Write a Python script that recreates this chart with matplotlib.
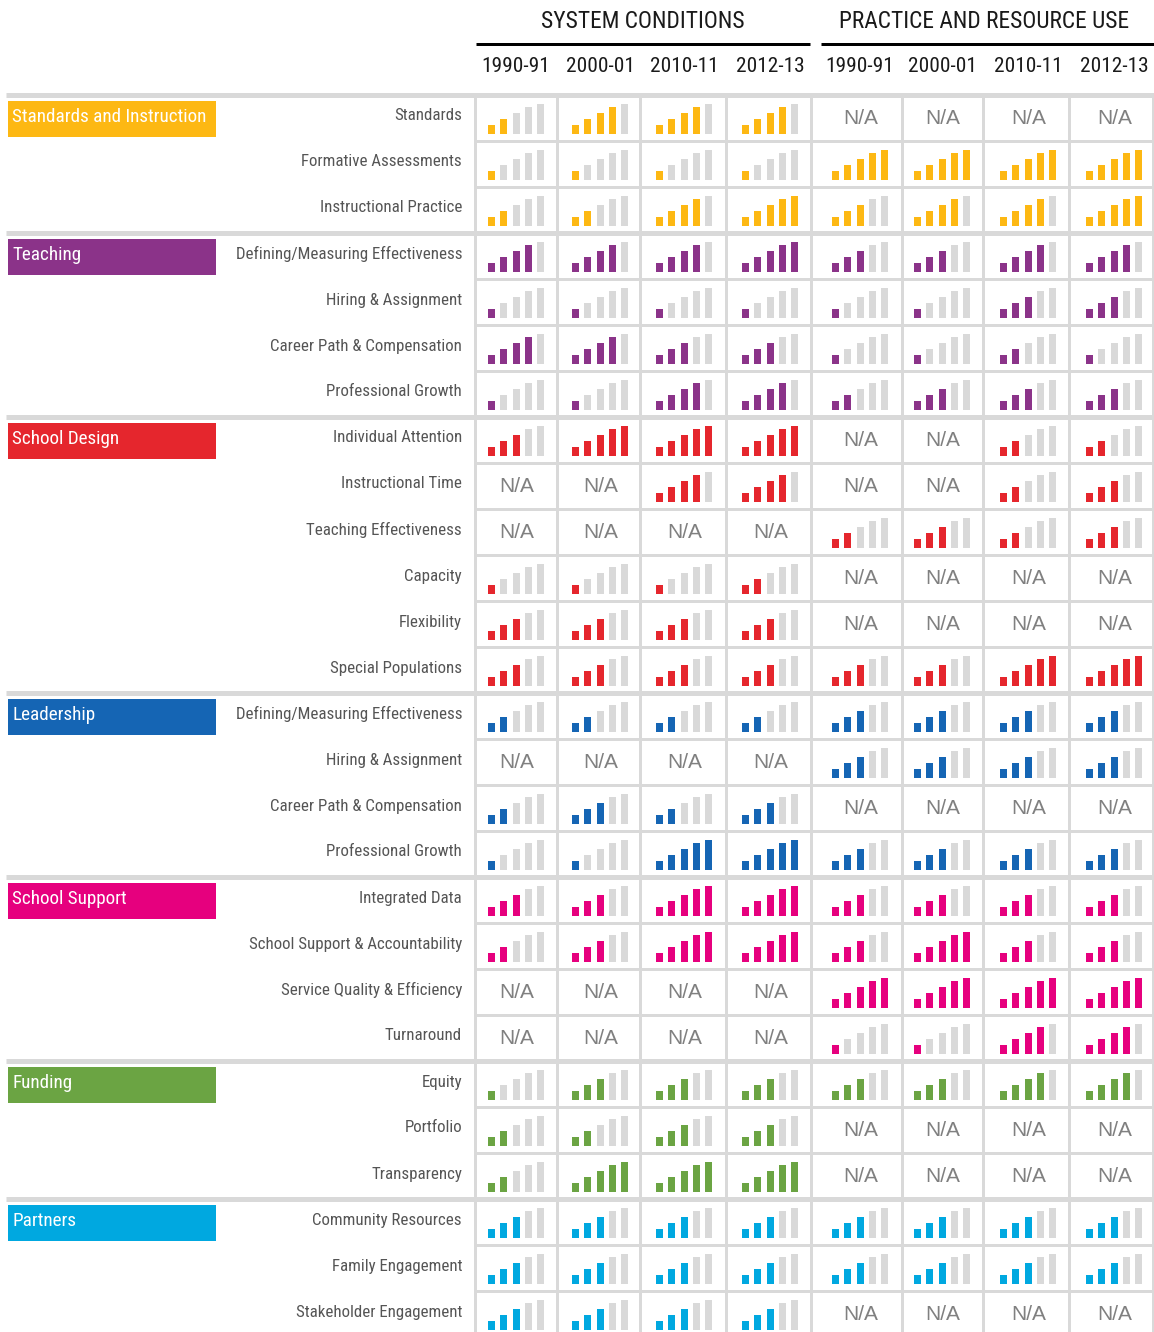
import matplotlib
matplotlib.use('Agg')
import matplotlib.pyplot as plt
from matplotlib import font_manager as fm

# ---------------- data ----------------
sections = ['SYSTEM CONDITIONS', 'PRACTICE AND RESOURCE USE']
years = ['1990-91', '2000-01', '2010-11', '2012-13']

groups = ['Standards and Instruction', 'Teaching', 'School Design', 'Leadership',
          'School Support', 'Funding', 'Partners']
group_colors = ['#FDB813', '#8B3389', '#E5262D', '#1565B4', '#E6007E', '#6BA443', '#00A8E0']

subcats = [
    ['Standards', 'Formative Assessments', 'Instructional Practice'],
    ['Defining/Measuring Effectiveness', 'Hiring & Assignment',
     'Career Path & Compensation', 'Professional Growth'],
    ['Individual Attention', 'Instructional Time', 'Teaching Effectiveness',
     'Capacity', 'Flexibility', 'Special Populations'],
    ['Defining/Measuring Effectiveness', 'Hiring & Assignment',
     'Career Path & Compensation', 'Professional Growth'],
    ['Integrated Data', 'School Support & Accountability',
     'Service Quality & Efficiency', 'Turnaround'],
    ['Equity', 'Portfolio', 'Transparency'],
    ['Community Resources', 'Family Engagement', 'Stakeholder Engagement'],
]

N = None  # N/A
# levels (1-5 filled bars) per row, per year
system_conditions = [
    [2, 4, 4, 4], [1, 1, 1, 1], [2, 2, 4, 5],
    [4, 4, 4, 5], [1, 1, 1, 1], [4, 4, 3, 3], [1, 1, 4, 4],
    [3, 5, 5, 5], [N, N, 4, 4], [N, N, N, N], [1, 1, 1, 2], [3, 3, 3, 3], [3, 3, 3, 3],
    [2, 2, 2, 2], [N, N, N, N], [2, 3, 2, 3], [1, 1, 5, 5],
    [3, 3, 5, 5], [2, 3, 5, 5], [N, N, N, N], [N, N, N, N],
    [1, 3, 3, 3], [2, 2, 3, 3], [2, 5, 5, 5],
    [3, 3, 3, 3], [3, 3, 3, 3], [3, 3, 3, 3],
]
practice_resource = [
    [N, N, N, N], [5, 5, 5, 5], [3, 4, 4, 5],
    [3, 3, 4, 4], [1, 1, 3, 3], [1, 1, 2, 1], [2, 3, 3, 3],
    [N, N, 2, 2], [N, N, 2, 3], [2, 3, 2, 3], [N, N, N, N], [N, N, N, N], [3, 3, 5, 5],
    [3, 3, 3, 3], [3, 3, 3, 3], [N, N, N, N], [3, 3, 3, 3],
    [3, 3, 3, 3], [3, 5, 3, 3], [5, 5, 5, 5], [1, 1, 4, 4],
    [3, 3, 4, 4], [N, N, N, N], [N, N, N, N],
    [3, 3, 3, 3], [3, 3, 3, 3], [N, N, N, N],
]

# ---------------- style / layout ----------------
W, H = 1154, 1332
GRAY = '#D9D9D9'
NA_COLOR = '#808080'
LABEL_COLOR = '#555555'
ROW_TOP = 95
ROW_H = 46
col_centers = [516, 600, 684, 770, 860, 942, 1028, 1114]
col_edges = [475, 557, 640, 726, 811, 902, 983, 1069, 1153]
bar_heights = [9, 15, 21, 27, 30]
bar_pitch = 12.3
bar_w = 7
px = 0.72  # points per pixel at dpi 100

names = {f.name for f in fm.fontManager.ttflist}
narrow = None
for cand in ['Liberation Sans Narrow', 'Arial Narrow', 'Roboto Condensed',
             'Open Sans Condensed', 'Noto Sans Display']:
    if cand in names:
        narrow = cand
        break
if narrow is None:
    narrow_font = dict(family=['Liberation Sans', 'DejaVu Sans'])
    nscale = 0.84
else:
    narrow_font = dict(family=[narrow, 'DejaVu Sans'])
    nscale = 1.0
regular_font = dict(family=['Liberation Sans', 'DejaVu Sans'])

fig = plt.figure(figsize=(W / 100, H / 100), dpi=100)
ax = fig.add_axes([0, 0, 1, 1])
ax.set_xlim(0, W)
ax.set_ylim(H, 0)
ax.axis('off')

# headers
sec_spans = [(476, 810), (821, 1154)]
sec_centers = [643, 984]
for (x0, x1), name, xc in zip(sec_spans, sections, sec_centers):
    ax.text(xc, 21, name, ha='center', va='center',
            fontsize=16.8 * nscale, color='#1a1a1a', **narrow_font)
    ax.plot([x0, x1], [44, 44], color='black', lw=3 * px, solid_capstyle='butt')
for i, c in enumerate(col_centers):
    ax.text(c, 67, years[i % 4], ha='center', va='center',
            fontsize=15.4 * nscale, color='#1a1a1a', **narrow_font)

# rows
row = 0
group_starts = []
for g, (gname, gcol, subs) in enumerate(zip(groups, group_colors, subcats)):
    group_starts.append(row)
    gtop = ROW_TOP + row * ROW_H
    ax.barh(gtop + 23.5, 208, left=8, height=36, color=gcol, zorder=2)
    ax.text(12, gtop + 22, gname, ha='left', va='center', color='white',
            fontsize=13.8 * nscale, zorder=3, **narrow_font)
    for k, sub in enumerate(subs):
        top = ROW_TOP + row * ROW_H
        ax.text(462, top + 21, sub, ha='right', va='center', color=LABEL_COLOR,
                fontsize=12.2 * nscale, **narrow_font)
        levels = system_conditions[row] + practice_resource[row]
        for c, lev in enumerate(levels):
            cx = col_centers[c]
            if lev is None:
                ax.text(cx + 1, top + 24, 'N/A', ha='center', va='center',
                        color=NA_COLOR, fontsize=15, **regular_font)
                continue
            xs = [cx + (b - 2) * bar_pitch for b in range(5)]
            cols = [gcol if b < lev else GRAY for b in range(5)]
            ax.bar(xs, [-h for h in bar_heights], bottom=top + 39, width=bar_w,
                   color=cols, zorder=2)
        if k > 0:
            ax.plot([col_edges[0], col_edges[-1] + 1], [top, top], color=GRAY,
                    lw=3 * px, solid_capstyle='butt', zorder=1)
        row += 1

# group separators
for s in group_starts:
    y = ROW_TOP + s * ROW_H
    ax.plot([6, W], [y, y], color=GRAY, lw=5 * px, solid_capstyle='butt', zorder=1)

# vertical grid lines
for x in col_edges:
    ax.plot([x, x], [ROW_TOP, H], color=GRAY, lw=3 * px, solid_capstyle='butt', zorder=1)

fig.savefig('out.png', dpi=100)
